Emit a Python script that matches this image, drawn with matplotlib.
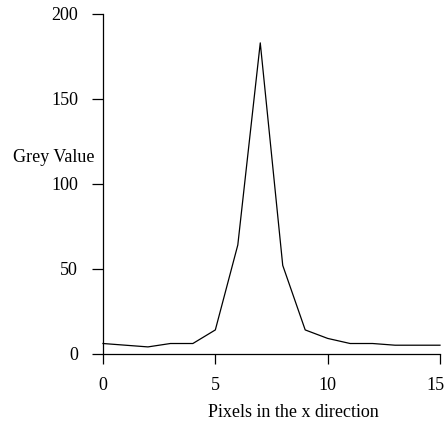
import matplotlib
matplotlib.use("Agg")
import matplotlib.pyplot as plt
from matplotlib.transforms import ScaledTranslation

pixels = [0, 1, 2, 3, 4, 5, 6, 7, 8, 9, 10, 11, 12, 13, 14, 15]
grey = [6, 5, 4, 6, 6, 14, 64, 183, 52, 14, 9, 6, 6, 5, 5, 5]
xticks = [0, 5, 10, 15]
yticks = [0, 50, 100, 150, 200]

plt.rcParams['font.family'] = ['Liberation Serif', 'DejaVu Serif']

fig = plt.figure(figsize=(4.48, 4.23), dpi=100)
ax = fig.add_axes([103/448, 1-353.7/423, 337/448, 339.7/423])
ax.plot(pixels, grey, color='black', linewidth=0.9, clip_on=False)
ax.set_xlim(0, 15)
ax.set_ylim(0, 200)
ax.set_xticks(xticks)
ax.set_yticks(yticks)
for s in ['top', 'right']:
    ax.spines[s].set_visible(False)
ax.spines['left'].set_bounds(0, 200)
ax.spines['bottom'].set_bounds(0, 15)
for s in ['left', 'bottom']:
    ax.spines[s].set_linewidth(0.9)
ax.tick_params(axis='x', direction='out', length=7.5, width=0.9, pad=9, labelsize=13)
ax.tick_params(axis='y', direction='out', length=8, width=0.9, pad=10, labelsize=13)
last = ax.get_xticklabels()[-1]
last.set_ha('right')
last.set_transform(last.get_transform() + ScaledTranslation(5/100, 0, fig.dpi_scale_trans))
ax.set_xlabel('Pixels in the x direction', fontsize=13)
ax.xaxis.set_label_coords((293-103)/337, -(412-353.7)/339.7)
ax.xaxis.label.set_va('center')
ax.set_ylabel('Grey Value', fontsize=13, rotation=0)
ax.yaxis.set_label_coords((54-103)/337, (353.7-157)/339.7)
ax.yaxis.label.set_va('center')
ax.yaxis.label.set_ha('center')
fig.savefig('out.png', dpi=100)
